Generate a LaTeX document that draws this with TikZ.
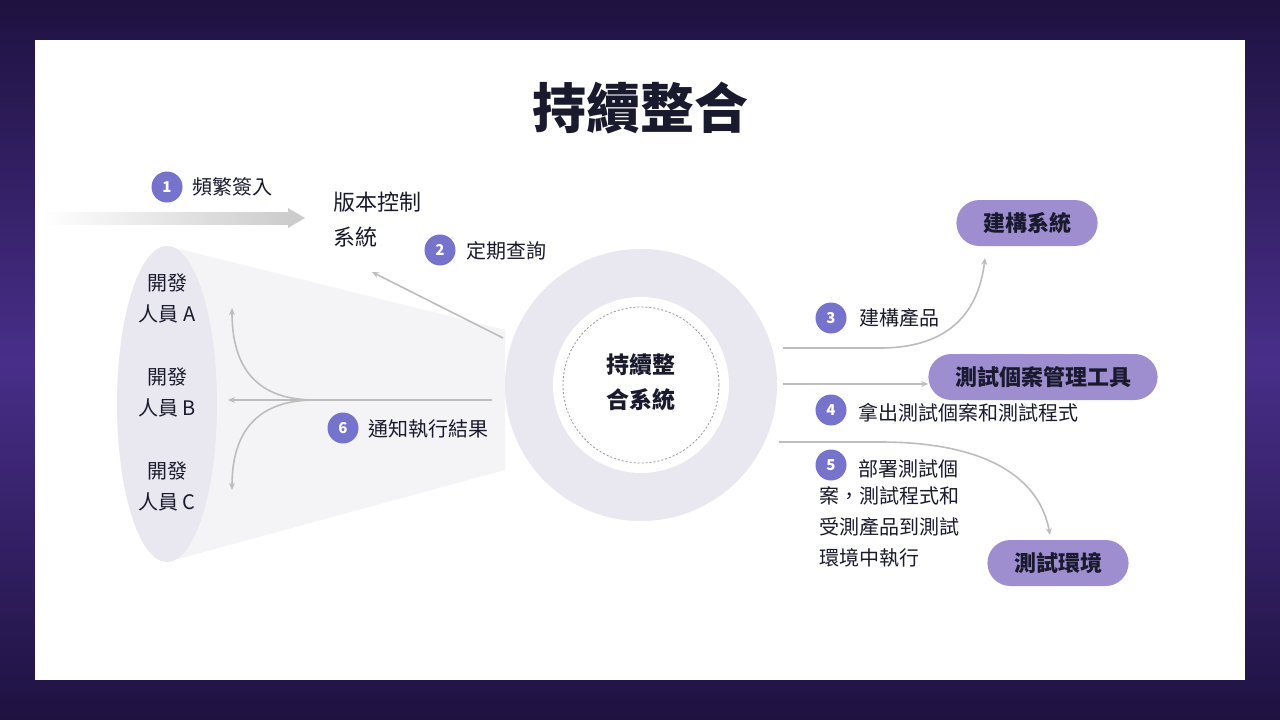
\documentclass[tikz,border=0pt]{standalone}
\usepackage{fontspec}
\setmainfont{Noto Sans CJK TC}
\usetikzlibrary{arrows.meta,shapes.misc}
\definecolor{bgd}{HTML}{1E1240}
\definecolor{bgp}{HTML}{5A3AA8}
\definecolor{badge}{HTML}{7673CC}
\definecolor{pill}{HTML}{9E8ED0}
\definecolor{conn}{HTML}{BDBDBD}
\definecolor{txt}{HTML}{1A1A2E}
\definecolor{ringc}{HTML}{E9E7EF}
\definecolor{func}{HTML}{F4F4F6}
\begin{document}
\begin{tikzpicture}[x=1pt,y=-1pt,
  badgest/.style={circle,fill=badge,text=white,inner sep=0pt,minimum size=31pt,font=\fontsize{15}{15}\selectfont\bfseries},
  lbl/.style={anchor=west,text=txt,font=\fontsize{20}{24}\selectfont,inner sep=0pt},
  pillst/.style={rounded rectangle,fill=pill,text=txt,minimum height=46pt,font=\fontsize{22}{22}\selectfont\bfseries,inner xsep=24pt},
  dev/.style={align=center,text=txt,font=\fontsize{20}{31}\selectfont},
  conn/.style={draw=conn,line width=1.6pt,-{Stealth[length=7pt,width=6pt]}}]
\useasboundingbox (0,0) rectangle (1280,720);
\shade[top color=bgd,bottom color=bgd,middle color=bgp!70!bgd] (0,0) rectangle (1280,720);
\fill[white] (35,40) rectangle (1245,680);
\node[font=\fontsize{54}{54}\selectfont\bfseries,text=txt] (title) at (640,108) {持續整合};
% funnel
\fill[func] (167,246) -- (505,330) -- (505,470) -- (167,562) -- cycle;
\fill[ringc] (167,404) ellipse [x radius=50,y radius=158];
% ring
\fill[ringc] (641,385) circle [radius=136];
\fill[white] (641,385) circle [radius=88];
\draw[black!40,line width=0.8pt,dash pattern=on 2pt off 2pt] (641,385) circle [radius=78];
\node[align=center,font=\fontsize{23}{35}\selectfont\bfseries,text=txt] (ci) at (641,382) {持續整\\合系統};
% arrow 1
\shade[left color=white,right color=black!20] (42,212) rectangle (290,224);
\fill[black!20] (288,208) -- (305,218) -- (288,228) -- cycle;
\node[badgest] (b1) at (167,187) {1};
\node[lbl] (t1) at (192,187) {頻繁簽入};
\node[lbl,align=left,font=\fontsize{22}{35}\selectfont,anchor=north west] (vcs) at (333,192) {版本控制\\系統};
\node[badgest] (b2) at (440,250) {2};
\node[lbl] (t2) at (466,251) {定期查詢};
\coordinate (s2) at (503,338); \coordinate (e2) at (372,272);
\draw[conn] (s2) -- (e2);
% developers
\node[dev] (dA) at (167,298) {開發\\人員 A};
\node[dev] (dB) at (167,392) {開發\\人員 B};
\node[dev] (dC) at (167,486) {開發\\人員 C};
\coordinate (s6) at (492,400); \coordinate (m6) at (315,400);
\coordinate (eA) at (232,308); \coordinate (eB) at (228,400); \coordinate (eC) at (232,490);
\draw[conn] (s6) -- (eB);
\draw[conn] (m6) .. controls (250,400) and (232,360) .. (eA);
\draw[conn] (m6) .. controls (250,400) and (232,440) .. (eC);
\node[badgest] (b6) at (343,428) {6};
\node[lbl] (t6) at (368,429) {通知執行結果};
% right
\node[pillst] (p1) at (1027,223) {建構系統};
\node[pillst] (p2) at (1043,377) {測試個案管理工具};
\node[pillst] (p3) at (1058,563) {測試環境};
\coordinate (s3) at (783,348); \coordinate (s4) at (783,384); \coordinate (s5) at (779,442);
\draw[conn] (s3) -- (880,348) .. controls (960,348) and (980,300) .. (985,258);
\draw[conn] (s4) -- (s4 -| p2.west);
\draw[conn] (s5) -- (880,442) .. controls (990,442) and (1040,480) .. (1050,535);
\node[badgest] (b3) at (831,318) {3};
\node[lbl] (t3) at (859,318) {建構產品};
\node[badgest] (b4) at (831,410) {4};
\node[lbl] (t4) at (858,413) {拿出測試個案和測試程式};
\node[badgest] (b5) at (831,465) {5};
\node[lbl] (t5) at (858,469) {部署測試個};
\node[lbl,anchor=north west,align=left,font=\fontsize{20}{31}\selectfont] (t5b) at (819,486) {案，測試程式和\\受測產品到測試\\環境中執行};
\end{tikzpicture}
\end{document}
